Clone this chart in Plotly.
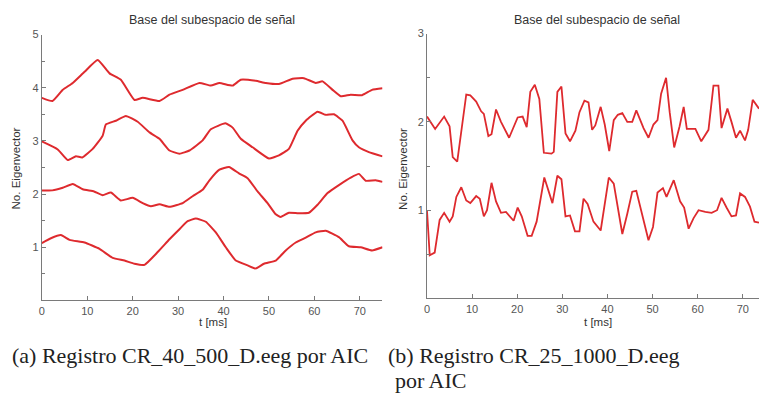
import plotly.graph_objects as go

# ---------------- data ----------------
# Left panel (a): four eigenvector curves, t in ms
a4_t = [0, 2.35, 4.6, 6.8, 9.4, 12.3, 14.9, 17.4, 20.4, 22.2, 25.9, 28.1, 31, 34.7, 37.2, 39.1, 42, 43.8,
        47.1, 49.3, 52.2, 55.2, 57.7, 60.3, 61.8, 64, 65.8, 68, 70.5, 72.7, 75]
a4_v = [3.81, 3.75, 3.96, 4.09, 4.30, 4.52, 4.27, 4.15, 3.77, 3.81, 3.75, 3.87, 3.96, 4.09, 4.04, 4.09, 4.04, 4.15,
        4.13, 4.09, 4.07, 4.17, 4.18, 4.09, 4.12, 3.96, 3.84, 3.87, 3.86, 3.96, 3.99]

a3_t = [0, 3.5, 5.7, 7.5, 8.9, 11.2, 13.4, 14.1, 16.3, 18.5, 21.1, 23.7, 25.9, 28.1, 30.3, 32.5, 35.4, 37.2,
        40.4, 42, 43.8, 46.4, 50, 52.2, 54.4, 56.3, 58.1, 60.7, 62.5, 64.3, 66.2, 68.4, 69.8, 72, 75]
a3_v = [2.99, 2.84, 2.64, 2.71, 2.69, 2.85, 3.10, 3.31, 3.38, 3.47, 3.36, 3.16, 3.04, 2.82, 2.76, 2.82, 3.01, 3.22,
        3.33, 3.25, 3.04, 2.88, 2.67, 2.73, 2.85, 3.19, 3.38, 3.55, 3.49, 3.50, 3.38, 3.01, 2.88, 2.79, 2.71]

a2_t = [0, 2.3, 4.6, 6.8, 9, 11.5, 13.4, 15.2, 17.4, 20, 22.2, 24, 25.9, 28.1, 31, 33.2, 35.4, 36.9, 39.1,
        41.2, 43.4, 45.3, 47.5, 49.7, 51.5, 52.6, 54.4, 56.5, 58.8, 60.7, 62.9, 65.4, 68, 69.8, 71.3, 73.5, 75]
a2_v = [2.07, 2.07, 2.12, 2.19, 2.09, 2.05, 1.98, 2.03, 1.88, 1.93, 1.83, 1.77, 1.81, 1.76, 1.83, 1.96, 2.08, 2.26, 2.46,
        2.51, 2.39, 2.30, 2.05, 1.83, 1.62, 1.57, 1.65, 1.64, 1.65, 1.80, 2.02, 2.17, 2.31, 2.38, 2.25, 2.26, 2.23]

a1_t = [0, 2, 4.2, 6.1, 9.4, 12.7, 15.6, 18.2, 20.4, 22.6, 25.5, 28.1, 30.3, 32.1, 33.9, 36.1, 38.3, 40.5,
        42.7, 45.3, 47.1, 48.9, 51.5, 53.7, 55.9, 58.1, 60.3, 62.5, 65.4, 67.6, 70.2, 72.7, 75]
a1_v = [1.08, 1.17, 1.23, 1.14, 1.09, 0.97, 0.80, 0.75, 0.69, 0.67, 0.91, 1.15, 1.34, 1.49, 1.54, 1.48, 1.28, 1.00,
        0.75, 0.66, 0.60, 0.69, 0.75, 0.94, 1.09, 1.18, 1.28, 1.31, 1.19, 1.02, 1.00, 0.94, 1.00]

# Right panel (b): two eigenvector curves
b2_t = [0, 1.8, 3.8, 5, 5.7, 6.7, 8.7, 9.6, 10.9, 12, 12.6, 13.6, 14.3, 15.3, 16.4, 18.2, 20.1, 21.2, 22.1,
        22.9, 23.9, 24.9, 25.9, 27.6, 28.1, 28.9, 29.8, 30.7, 31.7, 32.9, 33.8, 34.9, 35.8, 36.6, 37.3, 38.5,
        39.4, 40.4, 41.4, 42.3, 43.3, 44.4, 45.5, 46.4, 48, 49.1, 50.2, 51.1, 51.9, 53, 53.8, 54.8, 56, 56.9,
        57.6, 59.5, 60.8, 62.4, 63.5, 64.6, 65.3, 66.6, 67.5, 68.5, 69.4, 70.5, 71.2, 72.2, 73.6]
b2_v = [2.06, 1.92, 2.06, 1.95, 1.60, 1.55, 2.31, 2.30, 2.23, 2.12, 2.09, 1.84, 1.86, 2.14, 2.00, 1.82, 2.05, 2.06, 1.94,
        2.34, 2.42, 2.26, 1.65, 1.64, 1.66, 2.34, 2.40, 1.87, 1.78, 1.90, 2.11, 2.24, 2.22, 1.91, 1.96, 2.17,
        1.97, 1.67, 2.02, 2.08, 2.10, 2.00, 2.00, 2.13, 1.93, 1.82, 1.97, 2.02, 2.32, 2.50, 2.11, 1.71, 1.95, 2.17,
        1.92, 1.92, 1.78, 1.91, 2.41, 2.41, 1.93, 2.15, 2.00, 1.82, 1.90, 1.79, 1.91, 2.25, 2.15]

b1_t = [0, 0.6, 1.7, 2.8, 3.8, 5, 5.7, 6.5, 7.6, 8.7, 9.6, 10.9, 11.7, 12.6, 13.3, 14.3, 15.3, 16.4, 17.5,
        19.2, 20.1, 21, 22.3, 23.2, 24.3, 26, 27.8, 28.9, 29.8, 30.7, 31.7, 32.8, 33.8, 34.7, 35.6, 36.9,
        38.5, 40.3, 41.4, 43.3, 44.4, 45.5, 46.4, 49.1, 50.1, 51.1, 52.3, 53.1, 54.7, 56.1, 57, 58, 59.1,
        60.2, 61.7, 63.1, 64.3, 65.3, 66.4, 67.5, 68.5, 69.4, 70.5, 71.6, 72.6, 73.6]
b1_v = [0.99, 0.49, 0.52, 0.89, 0.97, 0.87, 0.93, 1.15, 1.26, 1.11, 1.08, 1.16, 1.13, 0.93, 1.00, 1.31, 1.10, 0.97, 0.98,
        0.88, 1.03, 0.93, 0.71, 0.71, 0.87, 1.37, 1.08, 1.39, 1.35, 0.93, 0.94, 0.76, 0.76, 1.13, 1.07, 0.87,
        0.77, 1.37, 1.30, 0.73, 0.96, 1.21, 1.22, 0.66, 0.81, 1.20, 1.25, 1.15, 1.34, 1.10, 1.03, 0.79, 0.91,
        1.00, 0.98, 0.97, 1.00, 1.14, 1.03, 0.93, 0.94, 1.19, 1.15, 1.04, 0.87, 0.86]

x_ticks = [0, 10, 20, 30, 40, 50, 60, 70]
ya_ticks = [1, 2, 3, 4, 5]
yb_ticks = [1, 2, 3]

plot_title = "Base del subespacio de señal"
x_title = "t [ms]"
y_title = "No. Eigenvector"
cap_a = "(a) Registro CR_40_500_D.eeg por AIC"
cap_b1 = "(b) Registro CR_25_1000_D.eeg"
cap_b2 = "por AIC"

# ---------------- figure ----------------
W, H = 759, 395
RED = "#de2a2e"
AX = "#7a7a7a"
TXT = "#555555"

fig = go.Figure()
for t, v in [(a4_t, a4_v), (a3_t, a3_v), (a2_t, a2_v), (a1_t, a1_v)]:
    fig.add_trace(go.Scatter(x=t, y=v, mode="lines", line=dict(color=RED, width=2, shape="spline", smoothing=0.4),
                             xaxis="x", yaxis="y", showlegend=False, hoverinfo="skip"))
for t, v in [(b2_t, b2_v), (b1_t, b1_v)]:
    fig.add_trace(go.Scatter(x=t, y=v, mode="lines", line=dict(color=RED, width=1.8),
                             xaxis="x2", yaxis="y2", showlegend=False, hoverinfo="skip"))

def px_x(p):
    return p / W

def px_y(p):
    return 1 - p / H

tickfont = dict(family="Liberation Sans, Arial, sans-serif", size=11, color=TXT)
common_x = dict(showgrid=False, zeroline=False, showline=True, linecolor=AX, linewidth=1,
                ticks="inside", ticklen=4, tickcolor=AX, tickvals=x_ticks, tickfont=tickfont)
common_y = dict(showgrid=False, zeroline=False, showline=True, linecolor=AX, linewidth=1,
                ticks="inside", ticklen=4, tickcolor=AX, tickfont=tickfont,
                minor=dict(dtick=0.5, ticks="inside", ticklen=3, tickcolor=AX))

fig.update_layout(
    width=W, height=H, margin=dict(l=0, r=0, t=0, b=0),
    paper_bgcolor="white", plot_bgcolor="white",
    xaxis=dict(domain=[px_x(39), px_x(381)], range=[0, 75], anchor="y", **common_x),
    yaxis=dict(domain=[px_y(299), px_y(29)], range=[0, 5], anchor="x", tickvals=ya_ticks, **common_y),
    xaxis2=dict(domain=[px_x(425.7), 1.0], range=[0, 73.6], anchor="y2", **common_x),
    yaxis2=dict(domain=[px_y(297), px_y(28)], range=[0, 3], anchor="x2", tickvals=yb_ticks, **common_y),
)

ttl = dict(family="Liberation Sans, Arial, sans-serif", size=12.5, color="#333333")
lab = dict(family="Liberation Sans, Arial, sans-serif", size=11.5, color="#333333")
ann = []
ann.append(dict(text=plot_title, x=px_x(210), y=px_y(14), font=ttl))
ann.append(dict(text=plot_title, x=px_x(596), y=px_y(14), font=ttl))
ann.append(dict(text=x_title, x=px_x(211), y=px_y(321), font=lab))
ann.append(dict(text=x_title, x=px_x(597), y=px_y(321), font=lab))
ann.append(dict(text=y_title, x=px_x(14), y=px_y(165), font=lab, textangle=-90))
ann.append(dict(text=y_title, x=px_x(402), y=px_y(165), font=lab, textangle=-90))
cap = dict(family="Liberation Serif, Times New Roman, serif", size=22, color="#222222")
ann.append(dict(text=cap_a, x=px_x(7), y=px_y(355), font=cap, xanchor="left"))
ann.append(dict(text=cap_b1, x=px_x(385), y=px_y(355), font=cap, xanchor="left"))
ann.append(dict(text=cap_b2, x=px_x(392), y=px_y(380), font=cap, xanchor="left"))
for a in ann:
    a.setdefault("xanchor", "center")
    a.update(xref="paper", yref="paper", yanchor="middle", showarrow=False)
fig.update_layout(annotations=ann)

fig.write_html("out.html")
